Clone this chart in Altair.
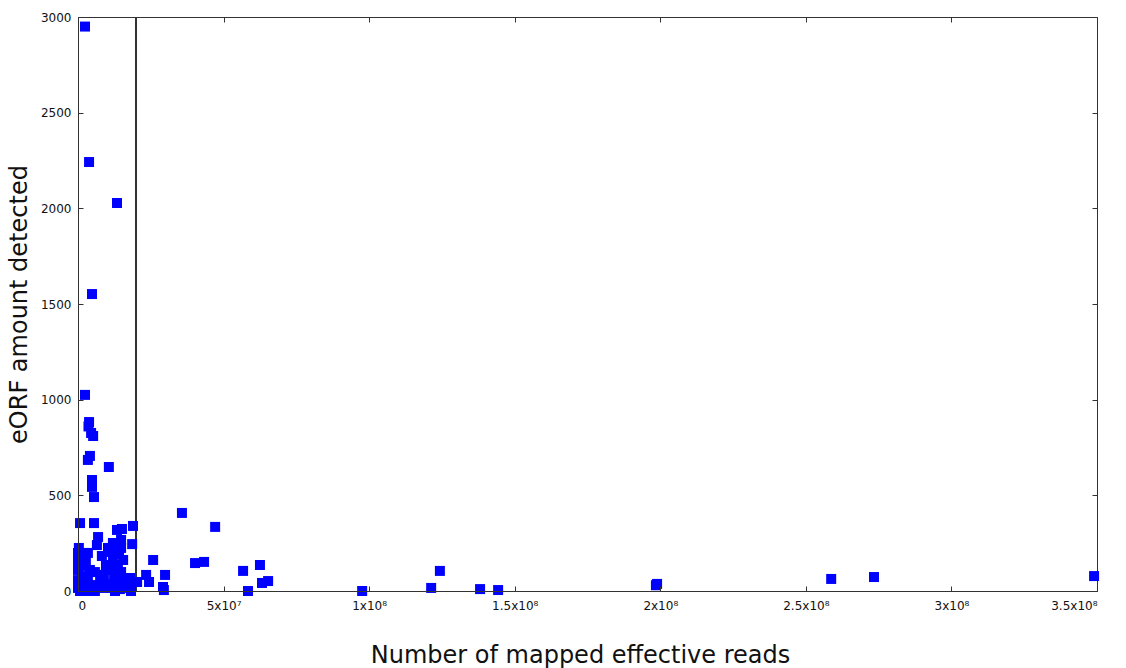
import altair as alt
import pandas as pd

# Mapped effective reads per sample and the number of eORFs detected in it
reads = [
    2.4e6, 3.8e6, 1.34e7, 4.8e6, 2.4e6, 3.8e6, 3.6e6, 4.5e6, 5.2e6, 4.1e6,
    3.4e6, 1.06e7, 4.8e6, 4.8e6, 5.5e6, 0.7e6, 5.5e6, 6.9e6, 6.5e6, 1.34e7,
    1.51e7, 1.89e7, 1.86e7, 3.57e7, 4.71e7, 2.58e7, 4.02e7, 4.33e7, 5.67e7, 5.84e7,
    2.34e7, 2.44e7, 2.99e7, 2.92e7, 2.95e7, 6.25e7, 6.32e7, 6.53e7, 9.76e7, 1.213e8,
    1.243e8, 1.381e8, 1.443e8, 1.989e8, 1.985e8, 2.587e8, 2.734e8, 3.49e8,
    0.0, 0.0, 0.0, 0.0, 0.0, 0.3e6, 1.4e6, 2.1e6, 1.4e6, 2.4e6,
    3.4e6, 2.7e6, 4.1e6, 3.4e6, 4.1e6, 8.2e6, 5.8e6, 7.6e6, 6.2e6, 8.6e6,
    1.03e7, 1.17e7, 1.03e7, 1.13e7, 1.20e7, 1.31e7, 1.41e7, 1.48e7, 1.37e7, 1.48e7,
    1.24e7, 1.34e7, 1.58e7, 1.72e7, 1.89e7, 1.65e7, 1.44e7, 1.79e7, 9.6e6, 8.9e6,
    1.10e7, 1.20e7, 0.7e6, 2.4e6, 5.8e6, 1.27e7, 1.82e7, 2.03e7, 1.48e7, 1.55e7,
]
eorfs = [
    2950, 2242, 2028, 1552, 1025, 883, 860, 826, 810, 706,
    685, 648, 580, 544, 491, 355, 355, 282, 240, 319,
    324, 340, 245, 408, 335, 162, 146, 152, 105, 0,
    84, 47, 84, 21, 5, 136, 42, 52, 0, 16,
    105, 10, 5, 37, 30, 63, 73, 78,
    199, 162, 110, 57, 16, 225, 183, 131, 78, 37,
    199, 152, 110, 68, 16, 183, 99, 68, 31, 16,
    37, 16, 225, 204, 162, 225, 193, 225, 136, 99,
    84, 57, 57, 31, 47, 16, 10, 68, 136, 84,
    110, 251, 0, 0, 0, 0, 0, 47, 267, 162,
]

x_ticks = [0, 5e7, 1e8, 1.5e8, 2e8, 2.5e8, 3e8, 3.5e8]
x_tick_labels = ["0", "5x10⁷", "1x10⁸", "1.5x10⁸", "2x10⁸", "2.5x10⁸", "3x10⁸", "3.5x10⁸"]
y_ticks = [0, 500, 1000, 1500, 2000, 2500, 3000]
threshold = 2e7

df = pd.DataFrame({"reads": reads, "eorfs": eorfs})

FONT = "DejaVu Sans"
label_expr = "[" + ",".join(f"'{s}'" for s in x_tick_labels) + "][round(datum.value / 5e7)]"

x_scale = alt.Scale(domain=[0, 3.5e8], nice=False, zero=False)
y_scale = alt.Scale(domain=[0, 3000], nice=False, zero=False)


def tick_axis(orient, values):
    # Inward-pointing ticks: axis pulled inside the frame by the tick length
    return alt.Axis(
        orient=orient, values=values, labels=False, domain=False, grid=False,
        ticks=True, tickSize=5, tickColor="#333", tickWidth=1, offset=-5,
        title=None, zindex=1,
    )


# Vertical reference line at the read-depth cutoff
cutoff = alt.Chart(df).mark_rule(color="#333", strokeWidth=1).encode(
    x=alt.XDatum(threshold, type="quantitative", scale=x_scale,
                 axis=tick_axis("top", x_ticks)),
    y=alt.YDatum(0, type="quantitative", scale=y_scale,
                 axis=tick_axis("right", y_ticks)),
    y2=alt.Y2Datum(3000),
)

# Carrier layer for the inward ticks along the bottom and left edges
tick_carrier = alt.Chart(df).mark_point(opacity=0).encode(
    x=alt.X("reads:Q", scale=x_scale, axis=tick_axis("bottom", x_ticks)),
    y=alt.Y("eorfs:Q", scale=y_scale, axis=tick_axis("left", y_ticks)),
)

points = alt.Chart(df).mark_square(size=100, color="#0000ff", opacity=1, clip=False).encode(
    x=alt.X(
        "reads:Q", scale=x_scale,
        axis=alt.Axis(
            orient="bottom", values=x_ticks, labelExpr=label_expr, ticks=False,
            domain=True, domainColor="#333", grid=False, labelFont=FONT,
            labelFontSize=12, labelColor="#111", labelPadding=9,
            title="Number of mapped effective reads", titleFont=FONT,
            titleFontSize=24, titleFontWeight="normal", titleColor="#111",
            titlePadding=32, titleX=502, zindex=1,
        ),
    ),
    y=alt.Y(
        "eorfs:Q", scale=y_scale,
        axis=alt.Axis(
            orient="left", values=y_ticks, format="d", ticks=False, domain=True,
            domainColor="#333", grid=False, labelFont=FONT, labelFontSize=12,
            labelColor="#111", labelPadding=7,
            title="eORF amount detected", titleFont=FONT, titleFontSize=24,
            titleFontWeight="normal", titleColor="#111", titlePadding=9,
            zindex=1,
        ),
    ),
)

chart = (
    alt.layer(cutoff, tick_carrier, points)
    .resolve_axis(x="independent", y="independent")
    .properties(
        width=1019, height=574,
        autosize=alt.AutoSizeParams(type="none"),
        padding={"left": 78, "top": 17, "right": 29, "bottom": 77},
        background="white",
    )
    .configure_view(stroke="#333", strokeWidth=1)
)

chart.save("out.html", embed_options={"renderer": "svg", "actions": False})
